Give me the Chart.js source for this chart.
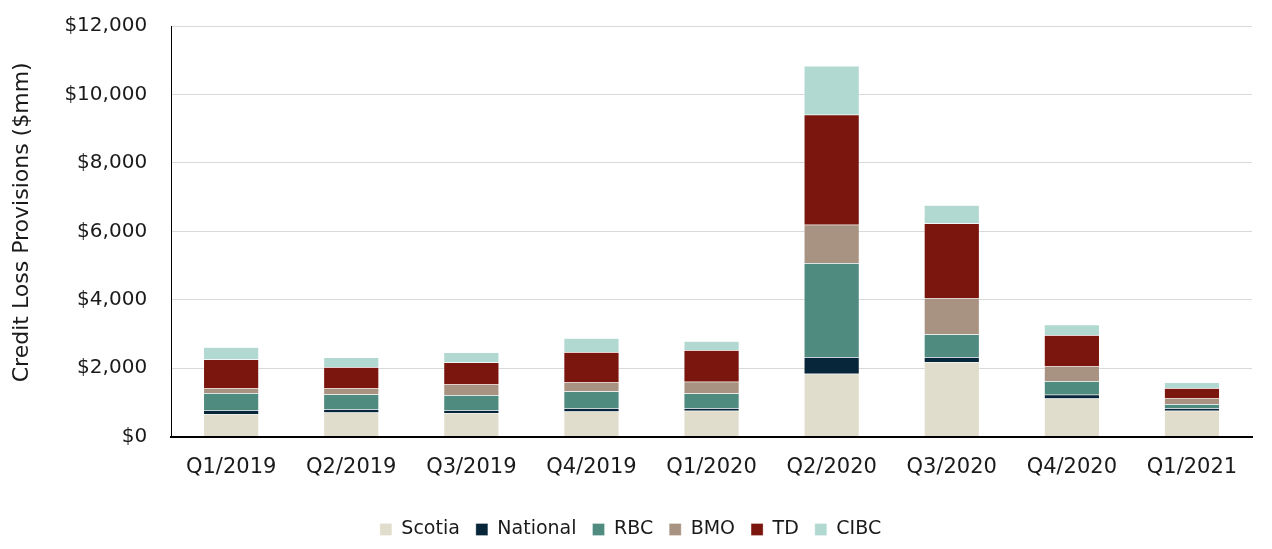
<!DOCTYPE html>
<html>
<head>
<meta charset="utf-8">
<script src="https://cdn.jsdelivr.net/npm/chart.js@4"></script>
<style>
  html, body { margin: 0; padding: 0; background: #fff; }
  #wrap { width: 1272px; height: 549px; }
</style>
</head>
<body>
<div id="wrap"><canvas id="provChart" width="1272" height="549"></canvas></div>
<script>
// quarters on the x axis
const quarters = ['Q1/2019', 'Q2/2019', 'Q3/2019', 'Q4/2019', 'Q1/2020', 'Q2/2020', 'Q3/2020', 'Q4/2020', 'Q1/2021'];

// provisions per bank, $mm
const scotia   = [664, 702, 693, 732, 752, 1835, 2174, 1112, 752];
const national = [106,  97,  77,  97,  77,  486,  147,  108,  77];
const rbc      = [497, 430, 439, 488, 429, 2742,  664,  398, 116];
const bmo      = [138, 176, 313, 263, 342, 1132, 1054,  431, 167];
const td       = [848, 623, 644, 887, 926, 3208, 2186,  916, 302];
const cibc     = [360, 284, 292, 410, 263, 1425,  535,  304, 166];

const yTicks = [0, 2000, 4000, 6000, 8000, 10000, 12000];

const fontFamily = '"DejaVu Sans", sans-serif';

function series(label, data, color) {
    return {
        label: label,
        data: data,
        backgroundColor: color,
        borderColor: 'rgba(255,255,255,0.6)',
        borderWidth: 0.5,
        categoryPercentage: 0.92,
        barPercentage: 0.5
    };
}

const ctx = document.getElementById('provChart').getContext('2d');

new Chart(ctx, {
    type: 'bar',
    data: {
        labels: quarters,
        datasets: [
            series('Scotia', scotia, '#e0ddcd'),
            series('National', national, '#08263a'),
            series('RBC', rbc, '#508b80'),
            series('BMO', bmo, '#a89382'),
            series('TD', td, '#7a160d'),
            series('CIBC', cibc, '#b1d9d1')
        ]
    },
    options: {
        responsive: false,
        animation: false,
        layout: {
            padding: { left: 9, right: 20, top: 0, bottom: 0 }
        },
        plugins: {
            legend: {
                position: 'bottom',
                // blank title just adds room above the legend row
                title: { display: true, text: ' ', font: { size: 1 }, padding: { top: 6, bottom: 7 } },
                labels: {
                    color: '#1a1a1a',
                    font: { family: fontFamily, size: 19 },
                    boxWidth: 12,
                    boxHeight: 12,
                    padding: 16
                }
            },
            tooltip: { enabled: false }
        },
        scales: {
            x: {
                stacked: true,
                grid: { display: false },
                border: { display: true, color: '#000', width: 2 },
                ticks: {
                    color: '#1a1a1a',
                    font: { family: fontFamily, size: 21 },
                    padding: 10,
                    maxRotation: 0
                }
            },
            y: {
                stacked: true,
                min: 0,
                max: 12000,
                afterBuildTicks: function (axis) {
                    axis.ticks = yTicks.map(v => ({ value: v }));
                },
                // invisible tick marks give the gap between labels and axis
                grid: { color: '#d9d9d9', lineWidth: 1, drawTicks: true, tickLength: 10, tickColor: 'rgba(0,0,0,0)' },
                border: { display: true, color: '#000', width: 1 },
                ticks: {
                    color: '#1a1a1a',
                    font: { family: fontFamily, size: 20 },
                    padding: 14,
                    callback: function (value) {
                        return '$' + value.toLocaleString('en-US');
                    }
                },
                title: {
                    display: true,
                    text: '\u2002 Credit Loss Provisions ($mm)',
                    color: '#1a1a1a',
                    font: { family: fontFamily, size: 22 },
                    padding: { top: 0, bottom: 15 }
                }
            }
        }
    }
});
</script>
</body>
</html>
